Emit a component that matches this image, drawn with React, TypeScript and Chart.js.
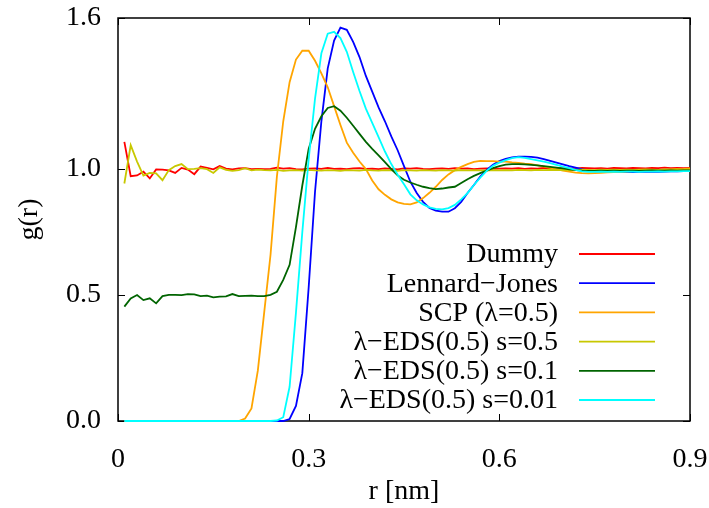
import React, { useEffect, useRef } from "react";
import { Chart, registerables } from "chart.js";

Chart.register(...registerables);

// Pair distance r (nm)
const rValues = [
  0.01, 0.02, 0.03, 0.04, 0.05, 0.06, 0.07, 0.08, 0.09, 0.1,
  0.11, 0.12, 0.13, 0.14, 0.15, 0.16, 0.17, 0.18, 0.19, 0.2,
  0.21, 0.22, 0.23, 0.24, 0.25, 0.26, 0.27, 0.28, 0.29, 0.3,
  0.31, 0.32, 0.33, 0.34, 0.35, 0.36, 0.37, 0.38, 0.39, 0.4,
  0.41, 0.42, 0.43, 0.44, 0.45, 0.46, 0.47, 0.48, 0.49, 0.5,
  0.51, 0.52, 0.53, 0.54, 0.55, 0.56, 0.57, 0.58, 0.59, 0.6,
  0.61, 0.62, 0.63, 0.64, 0.65, 0.66, 0.67, 0.68, 0.69, 0.7,
  0.71, 0.72, 0.73, 0.74, 0.75, 0.76, 0.77, 0.78, 0.79, 0.8,
  0.81, 0.82, 0.83, 0.84, 0.85, 0.86, 0.87, 0.88, 0.89, 0.9,
];

// g(r) for each model
const gDummy = [
  1.108, 0.972, 0.975, 0.99, 0.963, 0.999, 0.998, 0.995, 0.985, 1.005,
  0.998, 0.98, 1.01, 1.005, 0.999, 1.012, 1.002, 0.999, 1.003, 1.004,
  1.0, 1.001, 1.0, 1.001, 1.006, 1.002, 1.004, 1.0, 0.999, 1.002,
  1.003, 1.001, 1.005, 1.001, 1.002, 1.0, 1.003, 1.004, 1.001, 1.002,
  1.0, 1.003, 1.001, 0.999, 1.003, 1.002, 1.004, 1.001, 1.0, 1.002,
  1.003, 1.001, 1.004, 1.002, 1.003, 1.0, 1.002, 1.003, 1.001, 1.002,
  1.003, 1.002, 1.004, 1.001, 1.003, 1.002, 1.005, 1.003, 1.002, 1.004,
  1.003, 1.002, 1.005, 1.004, 1.003, 1.004, 1.002, 1.005, 1.004, 1.003,
  1.005, 1.004, 1.003, 1.005, 1.004, 1.006, 1.004, 1.005, 1.004, 1.005,
];

const gLJ = [
  0, 0, 0, 0, 0, 0, 0, 0, 0, 0,
  0, 0, 0, 0, 0, 0, 0, 0, 0, 0,
  0, 0, 0, 0, 0, 0, 0.008, 0.06, 0.19, 0.53,
  0.91, 1.19, 1.4, 1.51, 1.562, 1.553, 1.505, 1.445, 1.37, 1.308,
  1.245, 1.19, 1.13, 1.075, 1.012, 0.95, 0.905, 0.87, 0.846, 0.835,
  0.831, 0.831, 0.845, 0.87, 0.905, 0.937, 0.97, 0.997, 1.017, 1.032,
  1.041, 1.047, 1.05, 1.05, 1.049, 1.046, 1.04, 1.033, 1.026, 1.019,
  1.012, 1.006, 1.0, 0.995, 0.992, 0.99, 0.989, 0.989, 0.989, 0.988,
  0.988, 0.989, 0.989, 0.989, 0.989, 0.99, 0.991, 0.991, 0.992, 0.993,
];

const gSCP = [
  0, 0, 0, 0, 0, 0, 0, 0, 0, 0,
  0, 0, 0, 0, 0, 0, 0, 0, 0, 0.01,
  0.05, 0.2, 0.43, 0.66, 0.97, 1.19, 1.345, 1.435, 1.47, 1.47,
  1.43, 1.38, 1.325, 1.25, 1.175, 1.105, 1.065, 1.03, 1.0, 0.955,
  0.92, 0.898, 0.88, 0.868, 0.862, 0.86, 0.868, 0.885, 0.906, 0.93,
  0.957, 0.979, 0.996, 1.009, 1.02, 1.029, 1.033, 1.032, 1.032, 1.03,
  1.03, 1.027, 1.025, 1.022, 1.02, 1.015, 1.01, 1.005, 1.0, 0.994,
  0.99, 0.986, 0.984, 0.983, 0.984, 0.985, 0.987, 0.988, 0.989, 0.99,
  0.992, 0.993, 0.994, 0.995, 0.996, 0.997, 0.999, 1.0, 1.001, 1.003,
];

const gEds05 = [
  0.943, 1.095, 1.03, 0.974, 0.985, 0.983, 0.956, 0.996, 1.012, 1.02,
  1.0, 1.001, 1.004, 1.0, 0.985, 1.007, 0.997, 0.993, 0.996, 1.004,
  0.995, 0.998, 0.996, 0.995, 0.997, 0.993, 0.995, 0.996, 0.994, 0.997,
  0.995, 0.994, 0.996, 0.995, 0.993, 0.996, 0.995, 0.994, 0.997, 0.995,
  0.994, 0.996, 0.995, 0.993, 0.996, 0.995, 0.994, 0.996, 0.995, 0.994,
  0.996, 0.995, 0.994, 0.996, 0.995, 0.996, 0.995, 0.994, 0.996, 0.995,
  0.996, 0.995, 0.997, 0.996, 0.995, 0.997, 0.996, 0.997, 0.996, 0.997,
  0.996, 0.997, 0.998, 0.997, 0.996, 0.998, 0.997, 0.998, 0.997, 0.998,
  0.997, 0.998, 0.999, 0.998, 0.997, 0.999, 0.998, 0.999, 0.998, 0.999,
];

const gEds01 = [
  0.454, 0.487, 0.5, 0.48, 0.487, 0.467, 0.496, 0.501, 0.501, 0.5,
  0.504, 0.503, 0.496, 0.498, 0.491, 0.494, 0.495, 0.504, 0.496, 0.497,
  0.498, 0.496, 0.496, 0.501, 0.513, 0.56, 0.62, 0.77, 0.935, 1.08,
  1.16, 1.21, 1.243, 1.25, 1.232, 1.204, 1.172, 1.14, 1.108, 1.08,
  1.055, 1.028, 1.0, 0.975, 0.958, 0.947, 0.938, 0.93, 0.925, 0.921,
  0.923, 0.927, 0.93, 0.945, 0.96, 0.973, 0.984, 0.994, 1.004, 1.012,
  1.018, 1.02, 1.02, 1.019, 1.017, 1.015, 1.012, 1.009, 1.006, 1.003,
  0.999, 0.996, 0.994, 0.993, 0.993, 0.994, 0.993, 0.994, 0.993, 0.994,
  0.994, 0.993, 0.994, 0.995, 0.994, 0.994, 0.995, 0.994, 0.995, 0.995,
];

const gEds001 = [
  0, 0, 0, 0, 0, 0, 0, 0, 0, 0,
  0, 0, 0, 0, 0, 0, 0, 0, 0, 0,
  0, 0, 0, 0, 0.002, 0.015, 0.136, 0.43, 0.75, 1.04,
  1.28, 1.46, 1.538, 1.545, 1.52, 1.466, 1.386, 1.31, 1.24, 1.184,
  1.127, 1.07, 1.02, 0.978, 0.94, 0.9, 0.876, 0.86, 0.848, 0.842,
  0.84, 0.845, 0.858, 0.88, 0.905, 0.937, 0.966, 0.993, 1.013, 1.026,
  1.036, 1.044, 1.048, 1.045, 1.04, 1.035, 1.03, 1.024, 1.017, 1.01,
  1.004, 0.997, 0.991, 0.989, 0.989, 0.99, 0.989, 0.99, 0.989, 0.99,
  0.99, 0.989, 0.99, 0.99, 0.991, 0.99, 0.991, 0.991, 0.992, 0.992,
];

const seriesNames = [
  "Dummy",
  "Lennard\u2212Jones",
  "SCP (\u03bb=0.5)",
  "\u03bb\u2212EDS(0.5) s=0.5",
  "\u03bb\u2212EDS(0.5) s=0.1",
  "\u03bb\u2212EDS(0.5) s=0.01",
];
const seriesValues = [gDummy, gLJ, gSCP, gEds05, gEds01, gEds001];
const seriesColors = ["#ff0000", "#0000ff", "#ffa500", "#c8c800", "#006400", "#00ffff"];

const xTicks = [0, 0.3, 0.6, 0.9];
const xTickLabels = ["0", "0.3", "0.6", "0.9"];
const yTicks = [0, 0.5, 1.0, 1.6];
const yTickLabels = ["0.0", "0.5", "1.0", "1.6"];

const FONT = "'Liberation Serif', 'Times New Roman', serif";
const LINE_W = 1.8;

// Border box and inward, mirrored tick marks (gnuplot style)
const framePlugin = {
  id: "frame",
  beforeDatasetsDraw(chart: any) {
    const { ctx, chartArea, scales } = chart;
    const { left, right, top, bottom } = chartArea;
    ctx.save();
    ctx.strokeStyle = "#000";
    ctx.lineWidth = 1.5;
    ctx.strokeRect(left, top, right - left, bottom - top);
    ctx.lineWidth = 1;
    ctx.beginPath();
    const len = 7;
    xTicks.forEach((v) => {
      const px = Math.round(scales.x.getPixelForValue(v)) + 0.5;
      ctx.moveTo(px, bottom);
      ctx.lineTo(px, bottom - len);
      ctx.moveTo(px, top);
      ctx.lineTo(px, top + len);
    });
    yTicks.forEach((v) => {
      const py = Math.round(scales.y.getPixelForValue(v)) + 0.5;
      ctx.moveTo(left, py);
      ctx.lineTo(left + len, py);
      ctx.moveTo(right, py);
      ctx.lineTo(right - len, py);
    });
    ctx.stroke();
    ctx.restore();
  },
};

// Key: right-aligned labels with a line sample to their right
const keyPlugin = {
  id: "key",
  afterDatasetsDraw(chart: any) {
    const { ctx } = chart;
    const textRight = 558;
    const sampleLeft = 579;
    const sampleRight = 655;
    const firstRow = 254;
    const rowStep = 29.2;
    ctx.save();
    ctx.font = `28px ${FONT}`;
    ctx.textAlign = "right";
    ctx.textBaseline = "middle";
    seriesNames.forEach((name, i) => {
      const y = firstRow + i * rowStep;
      ctx.fillStyle = "#000";
      ctx.fillText(name, textRight, y + 1);
      ctx.strokeStyle = seriesColors[i];
      ctx.lineWidth = LINE_W;
      ctx.beginPath();
      ctx.moveTo(sampleLeft, y);
      ctx.lineTo(sampleRight, y);
      ctx.stroke();
    });
    ctx.restore();
  },
};

export default function App() {
  const canvasRef = useRef<HTMLCanvasElement | null>(null);

  useEffect(() => {
    const canvas = canvasRef.current;
    if (!canvas) return;

    const datasets = seriesNames.map((name, i) => ({
      label: name,
      data: rValues.map((r, k) => ({ x: r, y: seriesValues[i][k] })),
      borderColor: seriesColors[i],
      backgroundColor: seriesColors[i],
      borderWidth: LINE_W,
      pointRadius: 0,
      tension: 0,
      fill: false,
      clip: false as any,
      order: seriesNames.length - i,
    }));

    const chart = new Chart(canvas, {
      type: "line",
      data: { datasets },
      plugins: [framePlugin, keyPlugin],
      options: {
        responsive: false,
        animation: false,
        devicePixelRatio: 1,
        layout: { padding: { left: 0, top: 18, right: 19, bottom: 0 } },
        plugins: {
          legend: { display: false },
          tooltip: { enabled: false },
        },
        scales: {
          x: {
            type: "linear",
            min: 0,
            max: 0.9,
            grid: { display: false, drawTicks: false },
            border: { display: false },
            afterBuildTicks: (scale: any) => {
              scale.ticks = xTicks.map((v) => ({ value: v }));
            },
            afterFit: (scale: any) => {
              scale.height = 87;
              scale.paddingLeft = 0;
              scale.paddingRight = 0;
            },
            ticks: {
              padding: 22,
              color: "#000",
              font: { family: FONT, size: 28 },
              maxRotation: 0,
              callback: (v: any) => {
                const idx = xTicks.indexOf(Number(v));
                return idx >= 0 ? xTickLabels[idx] : "";
              },
            },
            title: {
              display: true,
              text: "r [nm]",
              color: "#000",
              font: { family: FONT, size: 28 },
              padding: { top: 0, bottom: 0 },
            },
          },
          y: {
            type: "linear",
            min: 0,
            max: 1.6,
            grid: { display: false, drawTicks: false },
            border: { display: false },
            afterBuildTicks: (scale: any) => {
              scale.ticks = yTicks.map((v) => ({ value: v }));
            },
            afterFit: (scale: any) => {
              scale.width = 118;
              scale.paddingTop = 0;
              scale.paddingBottom = 0;
            },
            ticks: {
              padding: 17,
              color: "#000",
              font: { family: FONT, size: 28 },
              callback: (v: any) => {
                const idx = yTicks.indexOf(Number(v));
                return idx >= 0 ? yTickLabels[idx] : "";
              },
            },
            title: {
              display: true,
              text: "g(r)",
              color: "#000",
              font: { family: FONT, size: 28 },
              padding: { top: 13, bottom: 0 },
            },
          },
        },
      },
    });

    return () => chart.destroy();
  }, []);

  return (
    <div style={{ position: "fixed", left: 0, top: 0, width: 709, height: 508, background: "#fff" }}>
      <canvas ref={canvasRef} width={709} height={508} style={{ display: "block" }} />
    </div>
  );
}
